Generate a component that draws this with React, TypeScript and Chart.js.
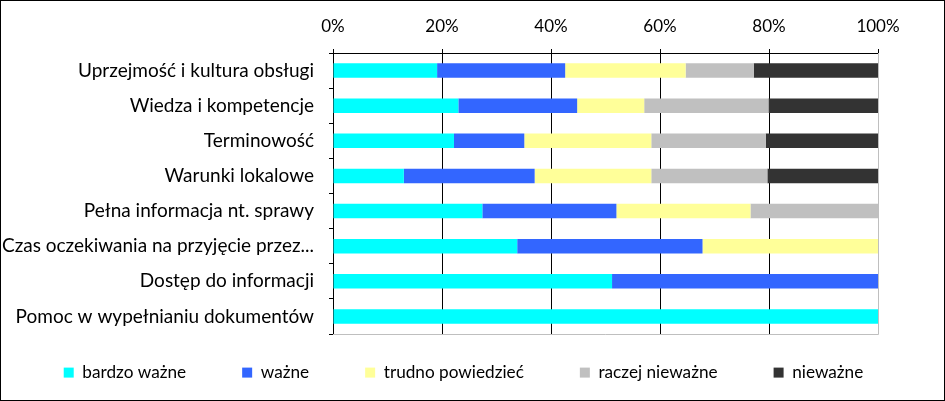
import React, { useEffect, useRef } from "react";
import { Chart, registerables } from "chart.js";

Chart.register(...registerables);

const categories = [
  "Uprzejmość i kultura obsługi",
  "Wiedza i kompetencje",
  "Terminowość",
  "Warunki lokalowe",
  "Pełna informacja nt. sprawy",
  "Czas oczekiwania na przyjęcie przez...",
  "Dostęp do informacji",
  "Pomoc w wypełnianiu dokumentów",
];

const seriesNames = ["bardzo ważne", "ważne", "trudno powiedzieć", "raczej nieważne", "nieważne"];
const seriesColors = ["#00FFFF", "#3366FF", "#FFFF99", "#C0C0C0", "#333333"];

const bardzoWazne = [19.1, 23.0, 22.2, 13.0, 27.4, 33.8, 51.2, 100];
const wazne = [23.5, 21.8, 12.9, 24.0, 24.6, 34.0, 48.8, 0];
const trudnoPowiedziec = [22.1, 12.3, 23.3, 21.4, 24.6, 32.2, 0, 0];
const raczejNiewazne = [12.5, 22.8, 21.0, 21.3, 23.4, 0, 0, 0];
const niewazne = [22.8, 20.1, 20.6, 20.3, 0, 0, 0, 0];

const xTickValues = [0, 20, 40, 60, 80, 100];

const FONT_FAMILY = "Lato";
const LEGEND_PADDING = 56;
const LEGEND_ROW_TOP_OFFSET = 30;
const LEGEND_DX = -9;

const plotFrame = {
  id: "plotFrame",
  beforeDatasetsDraw(chart: any) {
    const { ctx, chartArea: a } = chart;
    ctx.save();
    ctx.strokeStyle = "#BFBFBF";
    ctx.lineWidth = 1;
    ctx.beginPath();
    ctx.moveTo(Math.round(a.left), Math.round(a.bottom) + 0.5);
    ctx.lineTo(Math.round(a.right) + 0.5, Math.round(a.bottom) + 0.5);
    ctx.lineTo(Math.round(a.right) + 0.5, Math.round(a.top));
    ctx.stroke();
    ctx.restore();
  },
};

const legendPlace = {
  id: "legendPlace",
  afterLayout(chart: any) {
    const lg = chart.legend;
    if (!lg) return;
    lg.top = chart.chartArea.bottom + LEGEND_ROW_TOP_OFFSET - LEGEND_PADDING;
    lg.left += LEGEND_DX;
    lg.right += LEGEND_DX;
  },
};

export default function App() {
  const canvasRef = useRef<HTMLCanvasElement | null>(null);

  useEffect(() => {
    const canvas = canvasRef.current;
    if (!canvas) return;
    const seriesValues = [bardzoWazne, wazne, trudnoPowiedziec, raczejNiewazne, niewazne];
    const chart = new Chart(canvas, {
      type: "bar",
      data: {
        labels: categories,
        datasets: seriesNames.map((name, i) => ({
          label: name,
          data: seriesValues[i],
          backgroundColor: seriesColors[i],
          borderWidth: 0,
          barPercentage: 0.41,
          categoryPercentage: 1,
        })),
      },
      options: {
        indexAxis: "y",
        responsive: false,
        animation: false,
        layout: { padding: 0 },
        scales: {
          x: {
            position: "top",
            stacked: true,
            min: 0,
            max: 100,
            afterBuildTicks: (scale: any) => {
              scale.ticks = xTickValues.map((v) => ({ value: v }));
            },
            afterFit: (scale: any) => {
              scale.height = 53;
            },
            ticks: {
              font: { family: FONT_FAMILY, size: 17 },
              color: "#000",
              padding: 12,
              maxRotation: 0,
              callback: (v: any) => v + "%",
            },
            grid: {
              color: (ctx: any) => (ctx.tick && ctx.tick.value === 100 ? "#BFBFBF" : "#000"),
              tickColor: "#000",
              lineWidth: 1,
              tickLength: 4,
            },
            border: { display: true, color: "#000", width: 1 },
          },
          y: {
            stacked: true,
            afterFit: (scale: any) => {
              scale.width = 333;
            },
            ticks: { font: { family: FONT_FAMILY, size: 19 }, color: "#000", padding: 15 },
            grid: {
              drawOnChartArea: false,
              drawTicks: true,
              tickLength: 4,
              color: "#000",
              tickColor: "#000",
              offset: true,
            },
            border: { display: true, color: "#000", width: 1 },
          },
          yRight: {
            type: "category",
            axis: "y",
            position: "right",
            display: true,
            ticks: { display: false },
            grid: { display: false },
            border: { display: false },
            afterFit: (scale: any) => {
              scale.width = 67;
            },
          },
        },
        plugins: {
          legend: {
            position: "bottom",
            maxHeight: 67,
            labels: {
              font: { family: FONT_FAMILY, size: 17.2 },
              color: "#000",
              boxWidth: 10,
              boxHeight: 10,
              padding: LEGEND_PADDING,
            },
          },
          tooltip: { enabled: false },
        },
      },
      plugins: [plotFrame, legendPlace],
    });
    return () => chart.destroy();
  }, []);

  return (
    <div style={{ position: "absolute", left: 0, top: 0, width: 945, height: 401, background: "#fff" }}>
      <canvas ref={canvasRef} width={945} height={401} style={{ display: "block" }} />
      <div
        style={{
          position: "absolute",
          left: 0,
          top: 0,
          width: 945,
          height: 401,
          boxSizing: "border-box",
          border: "1px solid #000",
          pointerEvents: "none",
        }}
      />
    </div>
  );
}
